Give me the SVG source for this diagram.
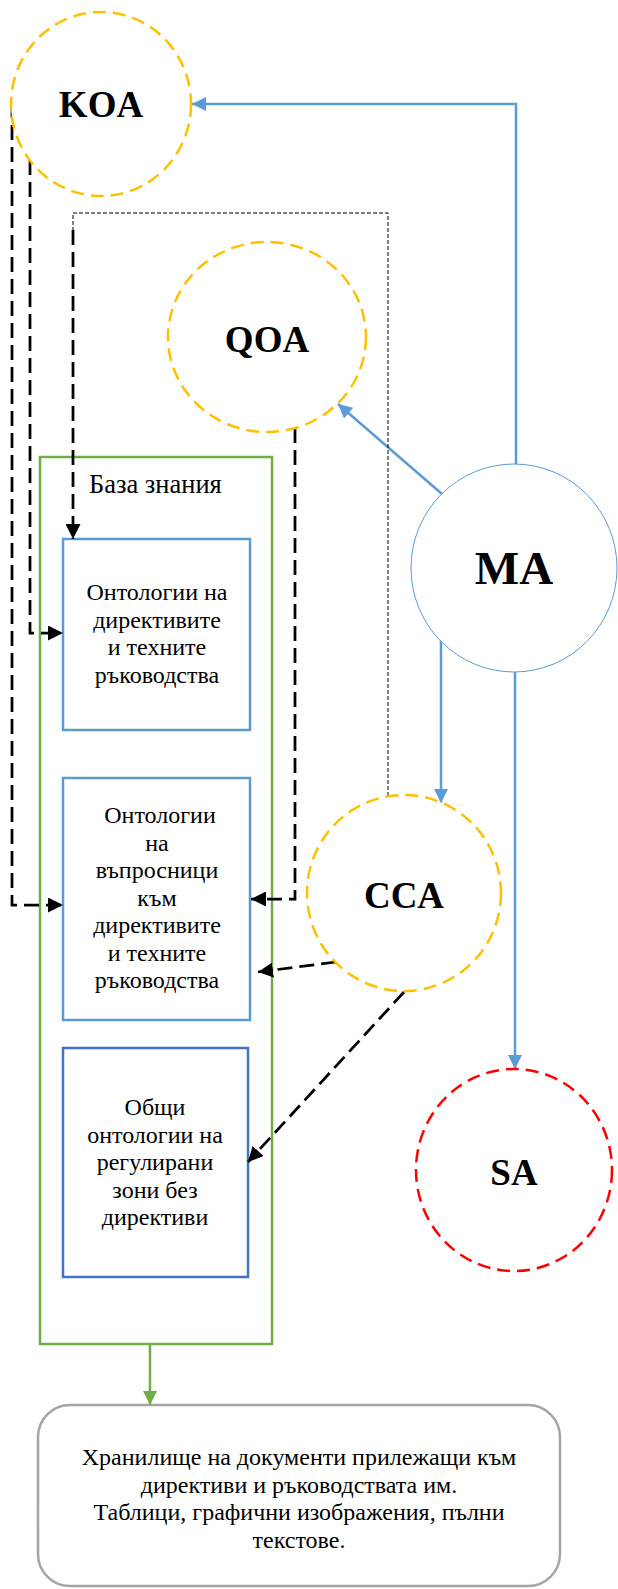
<svg xmlns="http://www.w3.org/2000/svg" width="618" height="1589" viewBox="0 0 618 1589">
<style>
.agent{fill:#fff;stroke:#FFC000;stroke-width:2.5;stroke-dasharray:13 7}
.sa{fill:#fff;stroke:#FF0000;stroke-width:2.5;stroke-dasharray:13 7}
.ma{fill:#fff;stroke:#5B9BD5;stroke-width:1}
.lbl{font-family:"Liberation Serif","Times New Roman",serif;font-weight:bold;fill:#000;text-anchor:middle}
.txt{font-family:"Liberation Serif","Times New Roman",serif;font-size:24px;fill:#000;text-anchor:middle}
.box{fill:#fff;stroke:#5B9BD5;stroke-width:2.5}
.box3{fill:#fff;stroke:#4472C4;stroke-width:2.5}
.kb{fill:#fff;stroke:#70AD47;stroke-width:2.5}
.blue{fill:none;stroke:#5B9BD5;stroke-width:2.5}
.dash{fill:none;stroke:#000;stroke-width:2.75;stroke-dasharray:15 7}
.thin{fill:none;stroke:#000;stroke-width:1;stroke-dasharray:4 2}
.green{fill:none;stroke:#70AD47;stroke-width:2.5}
</style>
<defs>
<marker id="ab" viewBox="0 0 10 10" refX="10" refY="5" markerWidth="15" markerHeight="15" markerUnits="userSpaceOnUse" orient="auto"><path d="M0,0 L10,5 L0,10 z" fill="#000"/></marker>
<marker id="abl" viewBox="0 0 10 10" refX="10" refY="5" markerWidth="15" markerHeight="14" markerUnits="userSpaceOnUse" orient="auto"><path d="M0,0 L10,5 L0,10 z" fill="#5B9BD5"/></marker>
<marker id="ag" viewBox="0 0 10 10" refX="10" refY="5" markerWidth="14" markerHeight="15" markerUnits="userSpaceOnUse" orient="auto"><path d="M0,0 L10,5 L0,10 z" fill="#70AD47"/></marker>
</defs>

<g id="kb">
<rect class="kb" x="40" y="457" width="232" height="887"/>
<text class="txt" x="89" y="493" style="text-anchor:start;font-size:26.5px">База знания</text>
</g>

<g id="box1">
<rect class="box" x="63" y="539" width="187" height="191"/>
<text class="txt" x="157" y="600">Онтологии на</text>
<text class="txt" x="157" y="628">директивите</text>
<text class="txt" x="157" y="655">и техните</text>
<text class="txt" x="157" y="683">ръководства</text>
</g>

<g id="box2">
<rect class="box" x="63" y="778" width="187" height="242"/>
<text class="txt" x="160" y="823">Онтологии</text>
<text class="txt" x="157" y="851">на</text>
<text class="txt" x="157" y="878">въпросници</text>
<text class="txt" x="157" y="906">към</text>
<text class="txt" x="157" y="933">директивите</text>
<text class="txt" x="157" y="961">и техните</text>
<text class="txt" x="157" y="988">ръководства</text>
</g>

<g id="box3">
<rect class="box3" x="63" y="1048" width="185" height="229"/>
<text class="txt" x="155" y="1115">Общи</text>
<text class="txt" x="155" y="1143">онтологии на</text>
<text class="txt" x="155" y="1170">регулирани</text>
<text class="txt" x="155" y="1198">зони без</text>
<text class="txt" x="155" y="1225">директиви</text>
</g>

<g id="repo">
<rect x="38" y="1405" width="522" height="181" rx="32" ry="32" fill="#fff" stroke="#A5A5A5" stroke-width="2.5"/>
<text class="txt" x="299" y="1465">Хранилище на документи прилежащи към</text>
<text class="txt" x="299" y="1493">директиви и ръководствата им.</text>
<text class="txt" x="299" y="1520">Таблици, графични изображения, пълни</text>
<text class="txt" x="299" y="1548">текстове.</text>
</g>

<g id="connectors">
<path class="blue" d="M516,464 L516,104 L192,104" marker-end="url(#abl)"/>
<path class="blue" d="M442,494 L338,404" marker-end="url(#abl)"/>
<path class="blue" d="M441,640 L441,803" marker-end="url(#abl)"/>
<path class="blue" d="M515,672 L515,1069" marker-end="url(#abl)"/>
<path class="dash" d="M12,103 L12,905 L63,905" marker-end="url(#ab)"/>
<path class="dash" d="M30,160 L30,633 L63,633" marker-end="url(#ab)"/>
<path class="thin" d="M388,802 L388,213 L73,213 L73,230"/>
<path class="dash" d="M73,230 L73,539" marker-end="url(#ab)"/>
<path class="dash" d="M295,428 L295,899 L251,899" marker-end="url(#ab)"/>
<path class="dash" d="M336,962 L258,972" marker-end="url(#ab)"/>
<path class="dash" d="M404,992 L248,1162" marker-end="url(#ab)"/>
<path class="green" d="M150,1344 L150,1405" marker-end="url(#ag)"/>
</g>

<g id="koa">
<ellipse class="agent" cx="101" cy="104" rx="90" ry="92"/>
<text class="lbl" x="101" y="117" font-size="37">KOA</text>
</g>

<g id="qoa">
<ellipse class="agent" cx="267" cy="337" rx="99" ry="95"/>
<text class="lbl" x="267" y="352" font-size="37">QOA</text>
</g>

<g id="ma">
<ellipse class="ma" cx="514" cy="568" rx="103" ry="104"/>
<text class="lbl" x="514" y="584" font-size="47">MA</text>
</g>

<g id="cca">
<ellipse class="agent" cx="404" cy="893" rx="97" ry="98"/>
<text class="lbl" x="404" y="908" font-size="37">CCA</text>
</g>

<g id="sa">
<ellipse class="sa" cx="514" cy="1170" rx="98" ry="101"/>
<text class="lbl" x="514" y="1185" font-size="37">SA</text>
</g>
</svg>
